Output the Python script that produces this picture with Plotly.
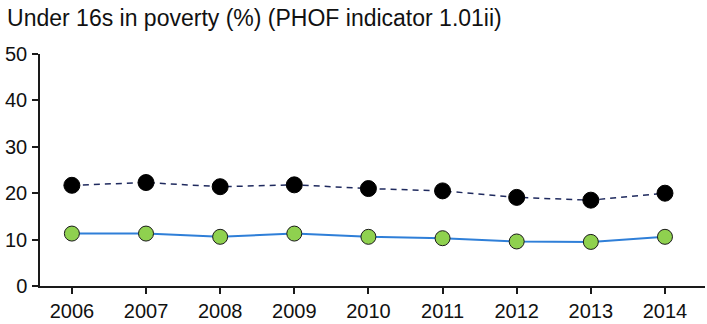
import plotly.graph_objects as go

years = [2006, 2007, 2008, 2009, 2010, 2011, 2012, 2013, 2014]
comparator = [21.7, 22.3, 21.4, 21.8, 21.0, 20.5, 19.1, 18.5, 20.0]
local = [11.3, 11.3, 10.6, 11.3, 10.6, 10.3, 9.6, 9.5, 10.6]
title_text = "Under 16s in poverty (%) (PHOF indicator 1.01ii)"
y_ticks = [0, 10, 20, 30, 40, 50]

fig = go.Figure()
fig.add_trace(go.Scatter(
    x=years, y=comparator, mode="lines+markers",
    line=dict(color="#1f2a5e", width=1.5, dash="6px,5px"),
    marker=dict(size=16, color="#000000", line=dict(color="#000000", width=1)),
    showlegend=False,
))
fig.add_trace(go.Scatter(
    x=years, y=local, mode="lines+markers",
    line=dict(color="#2f7fd8", width=2),
    marker=dict(size=15, color="#8fd14f", line=dict(color="#1a1a1a", width=1)),
    showlegend=False,
))

fig.update_layout(
    width=707, height=324,
    margin=dict(l=40, r=2, t=54, b=35.5),
    paper_bgcolor="white", plot_bgcolor="white",
    font=dict(family="Liberation Sans, Arial, sans-serif", size=20, color="#111111"),
    title=dict(text=title_text, x=0.01, xanchor="left", y=0.97, yanchor="top",
               font=dict(size=23, color="#111111")),
    xaxis=dict(range=[2005.57, 2014.54], tickmode="array", tickvals=years,
               ticktext=[str(y) for y in years], showgrid=False, zeroline=False,
               showline=True, linecolor="#1a1a1a", linewidth=1.5,
               ticks="outside", ticklen=6, tickcolor="#1a1a1a", tickwidth=1.5),
    yaxis=dict(range=[0, 50], tickvals=y_ticks, showgrid=False, zeroline=False,
               showline=True, linecolor="#1a1a1a", linewidth=1.5,
               ticks="outside", ticklen=6, tickcolor="#1a1a1a", tickwidth=1.5,
               ticklabelstandoff=1),
)

fig.write_html("out.html")
